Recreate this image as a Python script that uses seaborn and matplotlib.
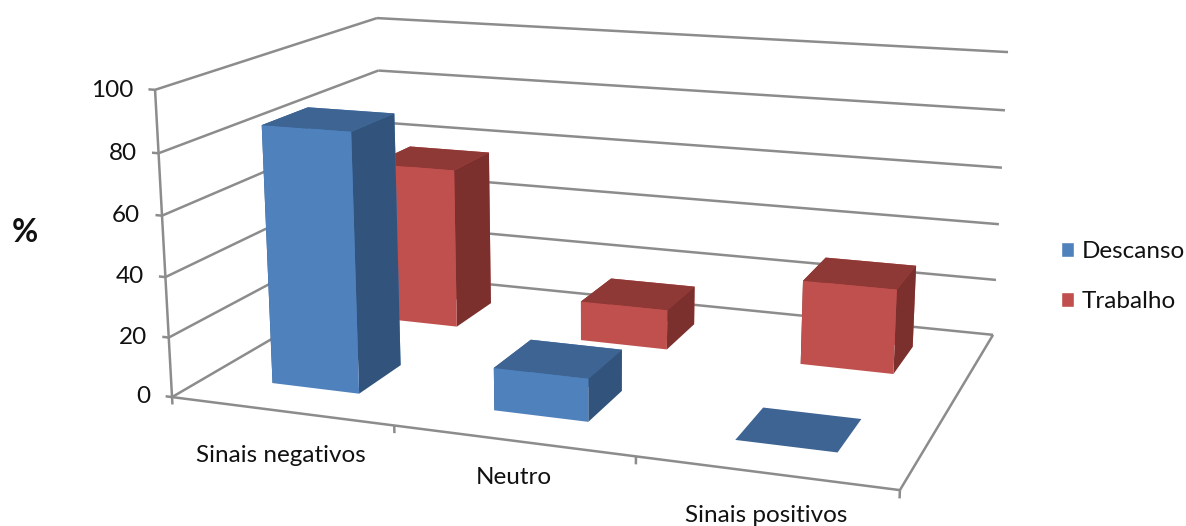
import numpy as np
import matplotlib
matplotlib.use("Agg")
import matplotlib.pyplot as plt
from matplotlib.patches import Patch
from mpl_toolkits.mplot3d.art3d import Line3DCollection
import seaborn as sns

categories = ["Sinais negativos", "Neutro", "Sinais positivos"]
series_names = ["Descanso", "Trabalho"]
descanso = [86, 14, 0]
trabalho = [57, 14, 29]
z_ticks = [0, 20, 40, 60, 80, 100]

sns.set_theme(style="white")
plt.rcParams["font.family"] = ["Lato", "DejaVu Sans"]
blue, red = sns.color_palette(["#4F81BD", "#C0504D"])
shades = {0: ("#4F81BD", "#3D6492", "#32547C"), 1: ("#C0504D", "#8F3937", "#7B302E")}
GRID = "#8C8C8C"
TXT = "#111111"

PX_W, PX_H = 1186, 526

fig = plt.figure(figsize=(PX_W/100, PX_H/100), dpi=100, facecolor="white")
ax = fig.add_axes([0, 0, 1, 1], projection="3d")
ax.apply_aspect = lambda position=None: None

# camera: anchors of the plot box in the figure's pixel space
anchors = [(0, 0, 0, 172, 397), (3, 0, 0, 900, 490), (3, 2, 0, 993, 335),
           (0, 0, 100, 155, 90), (0, 2, 100, 377, 18), (3, 2, 100, 1008, 52)]
rows = []
for x, y, z, u, v in anchors:
    rows.append([x, y, z, 1, 0, 0, 0, 0, -u*x, -u*y, -u*z, -u])
    rows.append([0, 0, 0, 0, x, y, z, 1, -v*x, -v*y, -v*z, -v])
P = np.linalg.svd(np.array(rows))[2][-1].reshape(3, 4)
P = P / P[2, 3]
x0, x1 = ax.viewLim.intervalx
y0, y1 = ax.viewLim.intervaly
A2 = np.array([[(x1-x0)/PX_W, 0, x0], [0, -(y1-y0)/PX_H, y1], [0, 0, 1]])
P2 = A2 @ P
M = np.vstack([P2[0], P2[1], P2[2] - np.array([0, 0, 0, 0.5]), P2[2]])
ax.get_proj = lambda: M
ax.set_xlim(0, 3); ax.set_ylim(0, 2); ax.set_zlim(0, 100)
ax.set_axis_off()
for axis in (ax.xaxis, ax.yaxis, ax.zaxis):
    axis.set_visible(False)
    axis.label.set_visible(False)
    axis.offsetText.set_visible(False)
    axis.set_ticks([])
ax.computed_zorder = False
ax.patch.set_visible(False)

segments = []
for z in z_ticks:
    segments.append([(0, 0, z), (0, 2, z)])
    segments.append([(0, 2, z), (3, 2, z)])
    segments.append([(-0.03, 0, z), (0, 0, z)])
    ax.text(-0.10, 0, z, str(z), ha="right", va="center_baseline", fontsize=17.5, color=TXT, zorder=9)
segments.append([(0, 0, 0), (0, 0, 100)])
segments.append([(0, 0, 0), (3, 0, 0)])
segments.append([(3, 0, 0), (3, 2, 0)])
for i in range(4):
    segments.append([(i, 0, 0), (i, 0, -2.5)])
ax.add_collection3d(Line3DCollection(segments, colors=GRID, linewidths=1.8, zorder=1))

label_px = [(281, 455), (514, 478), (766, 515)]
for name, (lx, ly) in zip(categories, label_px):
    fig.text(lx/PX_W, 1 - ly/PX_H, name, ha="center", va="center", fontsize=17.5, color=TXT)

# bars from back to front
width = 0.4
for s, values in sorted(enumerate([descanso, trabalho]), key=lambda t: -t[0]):
    front, top, side = shades[s]
    for i, v in enumerate(values):
        # face order of bar3d: bottom, top, -y, +y, -x, +x
        colors = ["#FFFFFF", top, front, front, side, side]
        ax.bar3d(i + 0.5 - width/2, s + 0.5 - width/2, 0, width, width, v,
                 color=colors, shade=False, zorder=10 + (1 - s)*10 + i, linewidth=0)

handles = [Patch(facecolor=c, label=n) for c, n in zip([blue, red], series_names)]
leg = fig.legend(handles=handles, loc="center left", bbox_to_anchor=(1061/PX_W, 1 - 276.5/PX_H),
                 frameon=False, fontsize=17.5, handlelength=0.55, handleheight=0.55,
                 handletextpad=0.3, labelspacing=1.2, borderpad=0, borderaxespad=0)
for t in leg.get_texts():
    t.set_color(TXT)
fig.text(25/PX_W, 1 - 232/PX_H, "%", ha="center", va="center", fontsize=23, fontweight="bold", color=TXT)
fig.savefig("out.png", dpi=100, facecolor="white")
